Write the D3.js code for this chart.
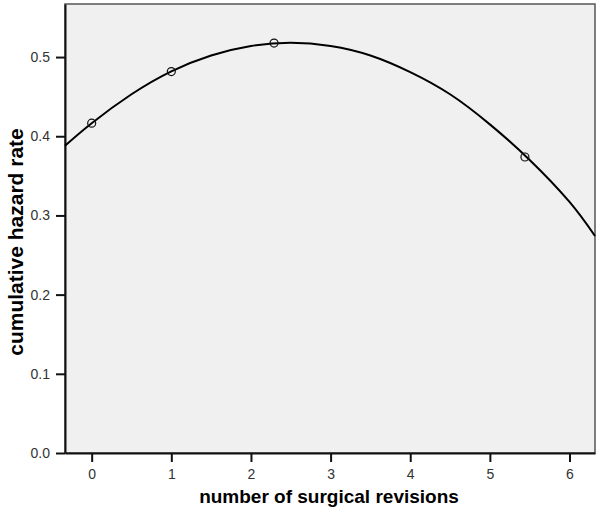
<!DOCTYPE html>
<html>
<head>
<meta charset="utf-8">
<script src="https://cdn.jsdelivr.net/npm/d3@7"></script>
<style>
  body { margin: 0; background: #fff; }
  text { font-family: "Liberation Sans", Arial, sans-serif; }
</style>
</head>
<body>
<script>
// observed points (number of revisions, cumulative hazard)
var pointX = [0, 1, 2.29, 5.44];
var pointY = [0.4165, 0.4817, 0.5176, 0.3738];

// fitted curve
var curveX = [-0.335, 0, 0.5, 1, 1.5, 2, 2.5, 3, 3.5, 4, 4.5, 5, 5.5, 6, 6.32];
var curveY = [0.388, 0.4165, 0.453, 0.482, 0.502, 0.514, 0.518, 0.514, 0.502, 0.481, 0.453, 0.415, 0.370, 0.317, 0.274];

var xTicks = [0, 1, 2, 3, 4, 5, 6];
var yTicks = [0.0, 0.1, 0.2, 0.3, 0.4, 0.5];

var width = 600, height = 516;
var margin = {top: 4, right: 5, bottom: 63, left: 65};

var svg = d3.select("body").append("svg")
    .attr("width", width)
    .attr("height", height);

var x = d3.scaleLinear().domain([-0.335, 6.32]).range([margin.left, width - margin.right]);
var y = d3.scaleLinear().domain([0, 0.567]).range([height - margin.bottom, margin.top]);

// plot background + frame
svg.append("rect")
    .attr("x", margin.left)
    .attr("y", margin.top)
    .attr("width", width - margin.right - margin.left)
    .attr("height", height - margin.bottom - margin.top)
    .attr("fill", "#f0f0f0")
    .attr("stroke", "#555")
    .attr("stroke-width", 1.5);

// axes
var xAxis = svg.append("g")
    .attr("transform", "translate(0," + (height - margin.bottom) + ")")
    .call(d3.axisBottom(x).tickValues(xTicks).tickFormat(d3.format("d")).tickSize(9).tickSizeOuter(0).tickPadding(7));

var yAxis = svg.append("g")
    .attr("transform", "translate(" + margin.left + ",0)")
    .call(d3.axisLeft(y).tickValues(yTicks).tickFormat(d3.format(".1f")).tickSize(9).tickSizeOuter(0).tickPadding(6));

[xAxis, yAxis].forEach(function(a) {
  a.select(".domain").attr("stroke", "#111").attr("stroke-width", 2);
  a.selectAll(".tick line").attr("stroke", "#111").attr("stroke-width", 2);
  a.selectAll(".tick text").attr("fill", "#333").style("font-size", "14px");
});

// fitted curve
var line = d3.line()
    .x(function(d, i) { return x(curveX[i]); })
    .y(function(d) { return y(d); })
    .curve(d3.curveNatural);

svg.append("path")
    .datum(curveY)
    .attr("d", line)
    .attr("fill", "none")
    .attr("stroke", "#000")
    .attr("stroke-width", 2);

// observed points
svg.selectAll("circle.pt")
    .data(pointY)
    .enter()
    .append("circle")
    .attr("class", "pt")
    .attr("cx", function(d, i) { return x(pointX[i]); })
    .attr("cy", function(d) { return y(d); })
    .attr("r", 4)
    .attr("fill", "none")
    .attr("stroke", "#111")
    .attr("stroke-width", 1.2);

// axis titles
svg.append("text")
    .attr("x", 329)
    .attr("y", 503)
    .attr("text-anchor", "middle")
    .style("font-size", "19px")
    .style("font-weight", "bold")
    .text("number of surgical revisions");

svg.append("text")
    .attr("transform", "translate(23," + 242 + ")rotate(-90)")
    .attr("text-anchor", "middle")
    .style("font-size", "21px")
    .style("font-weight", "bold")
    .text("cumulative hazard rate");
</script>
</body>
</html>
